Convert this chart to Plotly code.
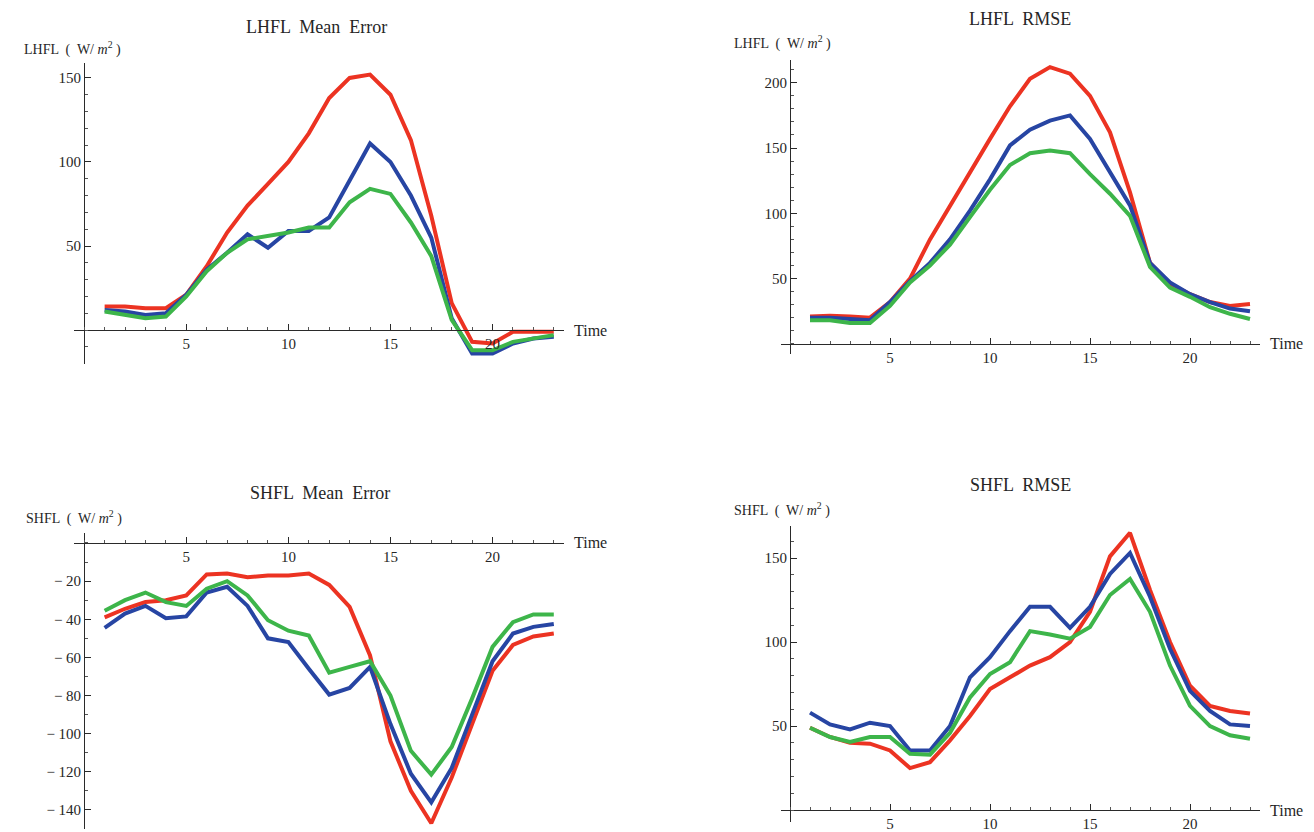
import plotly.graph_objects as go

W, H = 1314, 832

# Forecast hour (x) for every series
hours = list(range(1, 24))

# LHFL mean error (W/m^2)
lhfl_me_red = [14, 14, 13, 13, 21, 38, 58, 74, 87, 100, 117, 138, 150, 152, 140, 113, 68, 16, -7, -8, -1, -1, -1]
lhfl_me_blue = [12, 11, 9, 10, 21, 36, 46, 57, 49, 59, 59, 67, 89, 111, 100, 80, 55, 7, -14, -14, -8, -5, -4]
lhfl_me_green = [11, 9, 7, 8, 20, 35, 46, 54, 56, 58, 61, 61, 76, 84, 81, 64, 44, 6, -12, -12, -7, -5, -3]

# LHFL RMSE (W/m^2)
lhfl_rmse_red = [21, 21.5, 21, 20, 32, 50, 80, 106, 131, 157, 182, 203, 212, 207, 190, 162, 116, 62, 46, 38, 32, 29, 30.5]
lhfl_rmse_blue = [20, 20, 19, 18, 32, 48, 62, 80, 102, 126, 152, 164, 171, 175, 157, 131, 106, 62, 47, 38, 32, 27, 25]
lhfl_rmse_green = [18, 18, 16, 16, 29, 47, 60, 76, 97, 118, 137, 146, 148, 146, 130, 115, 98, 59, 43, 36, 28, 23, 19]

# SHFL mean error (W/m^2)
shfl_me_red = [-39, -34.5, -31, -30, -27.5, -16.5, -16, -18, -17, -17, -16, -22, -33.5, -59, -104, -130, -147, -123, -95, -67, -53.5, -49, -47.5]
shfl_me_blue = [-44.5, -37, -33, -39.5, -38.5, -26, -23, -33, -50, -52, -66, -79.5, -76, -65, -95, -121, -136, -118, -90, -62, -47.5, -44, -42.5]
shfl_me_green = [-35.5, -30, -26, -31, -33, -24, -20, -27.5, -40.5, -46, -48.5, -68, -65, -62, -80, -109, -121.5, -107, -81.5, -54.5, -41.5, -37.5, -37.5]

# SHFL RMSE (W/m^2)
shfl_rmse_red = [49, 43.5, 40, 39.5, 35.5, 25, 28.5, 41.5, 56, 72, 79, 86, 91, 100, 118, 151, 165, 131, 100, 74, 62, 59, 57.5]
shfl_rmse_blue = [58, 51, 48, 52, 50, 35.5, 35.5, 50, 79, 91, 106.5, 121, 121, 108.5, 121, 140.5, 153, 127, 96, 71, 59, 51, 50]
shfl_rmse_green = [49, 43.5, 40.5, 43.5, 43.5, 33.5, 33, 46, 67, 81, 88, 106.5, 104.5, 102, 109, 128, 137.5, 118, 86, 62, 50, 44.5, 42.5]

# Tick values and labels
x_tickvals = [5, 10, 15, 20]
x_ticktext = ["5", "10", "15", "20"]
lhfl_me_tickvals = [50, 100, 150]
lhfl_me_ticktext = ["50", "100", "150"]
lhfl_rmse_tickvals = [50, 100, 150, 200]
lhfl_rmse_ticktext = ["50", "100", "150", "200"]
shfl_me_tickvals = [-140, -120, -100, -80, -60, -40, -20]
shfl_me_ticktext = ["\u2212 140", "\u2212 120", "\u2212 100", "\u2212 80", "\u2212 60", "\u2212 40", "\u2212 20"]
shfl_rmse_tickvals = [50, 100, 150]
shfl_rmse_ticktext = ["50", "100", "150"]

COLORS = {"red": "#ec3322", "blue": "#2745a3", "green": "#3db54a"}
FONT = "Liberation Serif, Times New Roman, serif"
AXIS_COLOR = "#2a2a2a"
TEXT_COLOR = "#262626"


def px_x(p):
    return p / W


def px_y(p):
    return 1 - p / H


panels = [
    dict(title="LHFL  Mean  Error", var="LHFL",
         series=(lhfl_me_red, lhfl_me_blue, lhfl_me_green),
         xdom=(74, 564), ydom=(63, 365), xrange=(-0.5, 23.5), yrange=(-20, 159),
         yticks=(lhfl_me_tickvals, lhfl_me_ticktext), title_xy=(316, 27), label_xy=(22, 49)),
    dict(title="LHFL  RMSE", var="LHFL",
         series=(lhfl_rmse_red, lhfl_rmse_blue, lhfl_rmse_green),
         xdom=(781, 1260), ydom=(60, 355), xrange=(-0.45, 23.5), yrange=(-7.6, 217.6),
         yticks=(lhfl_rmse_tickvals, lhfl_rmse_ticktext), title_xy=(1020, 19), label_xy=(732, 43)),
    dict(title="SHFL  Mean  Error", var="SHFL",
         series=(shfl_me_red, shfl_me_blue, shfl_me_green),
         xdom=(74, 564), ydom=(535, 832), xrange=(-0.5, 23.5), yrange=(-150, 5.2),
         yticks=(shfl_me_tickvals, shfl_me_ticktext), title_xy=(320, 495), label_xy=(24, 519)),
    dict(title="SHFL  RMSE", var="SHFL",
         series=(shfl_rmse_red, shfl_rmse_blue, shfl_rmse_green),
         xdom=(781, 1260), ydom=(528, 825), xrange=(-0.45, 23.5), yrange=(-7.1, 169),
         yticks=(shfl_rmse_tickvals, shfl_rmse_ticktext), title_xy=(1020, 487), label_xy=(732, 511)),
]

fig = go.Figure()
layout = dict(
    width=W, height=H,
    margin=dict(l=0, r=0, t=0, b=0),
    paper_bgcolor="white", plot_bgcolor="white",
    showlegend=False,
    font=dict(family=FONT, color=TEXT_COLOR),
    annotations=[],
)

for i, p in enumerate(panels, start=1):
    xa = "x" if i == 1 else f"x{i}"
    ya = "y" if i == 1 else f"y{i}"
    for vals, cname in zip(p["series"], ("red", "blue", "green")):
        fig.add_trace(go.Scatter(
            x=hours, y=vals, mode="lines", xaxis=xa, yaxis=ya,
            line=dict(color=COLORS[cname], width=4), hoverinfo="skip",
        ))

    xd = (px_x(p["xdom"][0]), px_x(p["xdom"][1]))
    yd = (px_y(p["ydom"][1]), px_y(p["ydom"][0]))
    x0, x1 = p["xrange"]
    y0, y1 = p["yrange"]
    # axes cross at the origin, Mathematica style
    xaxis_pos = yd[0] + (0 - y0) / (y1 - y0) * (yd[1] - yd[0])
    yaxis_pos = xd[0] + (0 - x0) / (x1 - x0) * (xd[1] - xd[0])

    layout[f"xaxis{'' if i == 1 else i}"] = dict(
        domain=list(xd), range=[x0, x1], anchor="free", position=xaxis_pos,
        showgrid=False, zeroline=False, showline=True, linecolor=AXIS_COLOR, linewidth=1.2,
        ticks="inside", ticklen=6, tickwidth=1.2, tickcolor=AXIS_COLOR,
        tickvals=x_tickvals, ticktext=x_ticktext,
        minor=dict(dtick=1, tick0=0, ticks="inside", ticklen=3, tickwidth=1, tickcolor="#555", showgrid=False),
        tickfont=dict(family=FONT, size=15, color=TEXT_COLOR),
        fixedrange=True,
    )
    layout[f"yaxis{'' if i == 1 else i}"] = dict(
        domain=list(yd), range=[y0, y1], anchor="free", position=yaxis_pos,
        showgrid=False, zeroline=False, showline=True, linecolor=AXIS_COLOR, linewidth=1.2,
        ticks="inside", ticklen=6, tickwidth=1.2, tickcolor=AXIS_COLOR,
        tickvals=p["yticks"][0], ticktext=p["yticks"][1],
        minor=dict(dtick=10, tick0=0, ticks="inside", ticklen=3, tickwidth=1, tickcolor="#555", showgrid=False),
        tickfont=dict(family=FONT, size=15, color=TEXT_COLOR),
        fixedrange=True,
    )

    tx, ty = p["title_xy"]
    layout["annotations"].append(dict(
        text=p["title"], x=px_x(tx), y=px_y(ty), xref="paper", yref="paper",
        xanchor="center", yanchor="middle", showarrow=False,
        font=dict(family=FONT, size=18, color=TEXT_COLOR),
    ))
    lx, ly = p["label_xy"]
    layout["annotations"].append(dict(
        text=f"{p['var']}  (  W/ <i>m</i><sup>2</sup> )", x=px_x(lx), y=px_y(ly),
        xref="paper", yref="paper", xanchor="left", yanchor="middle", showarrow=False,
        font=dict(family=FONT, size=14, color=TEXT_COLOR),
    ))
    layout["annotations"].append(dict(
        text="Time", x=xd[1] + 8 / W, y=xaxis_pos, xref="paper", yref="paper",
        xanchor="left", yanchor="middle", showarrow=False,
        font=dict(family=FONT, size=16, color=TEXT_COLOR),
    ))

fig.update_layout(**layout)
fig.write_html("out.html")
